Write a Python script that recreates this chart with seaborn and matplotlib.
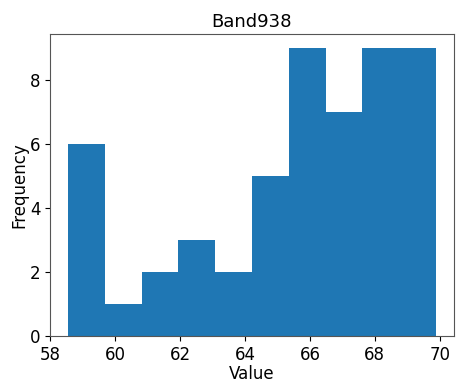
import matplotlib
matplotlib.use("Agg")
import matplotlib.pyplot as plt
import seaborn as sns
import numpy as np
import pandas as pd

bin_edges = [58.56, 59.69, 60.82, 61.95, 63.08, 64.22, 65.35, 66.48, 67.61, 68.74, 69.87]
counts = [6, 1, 2, 3, 2, 5, 9, 7, 9, 9]
title = "Band938"
xlabel = "Value"
ylabel = "Frequency"

edges = np.array(bin_edges)
df = pd.DataFrame({"value": (edges[:-1] + edges[1:]) / 2, "count": counts})

fig = plt.figure(figsize=(4.64, 3.86), dpi=100)
ax = fig.add_axes([0.108, 0.130, 0.870, 0.782])
sns.histplot(data=df, x="value", weights="count", bins=list(bin_edges), ax=ax,
             color="#1f77b4", alpha=1, edgecolor="none", linewidth=0)
ax.set_title(title, fontsize=13, pad=5)
ax.set_xlabel(xlabel, fontsize=12, labelpad=1)
ax.set_ylabel(ylabel, fontsize=12, labelpad=1)
ax.tick_params(labelsize=12)
ax.set_xticks([58, 60, 62, 64, 66, 68, 70])
ax.set_yticks([0, 2, 4, 6, 8])
ax.set_xlim(58.0, 70.43)
ax.set_ylim(0, 9.45)
for s in ax.spines.values():
    s.set_color("#555555")
fig.savefig("out.png", dpi=100)
